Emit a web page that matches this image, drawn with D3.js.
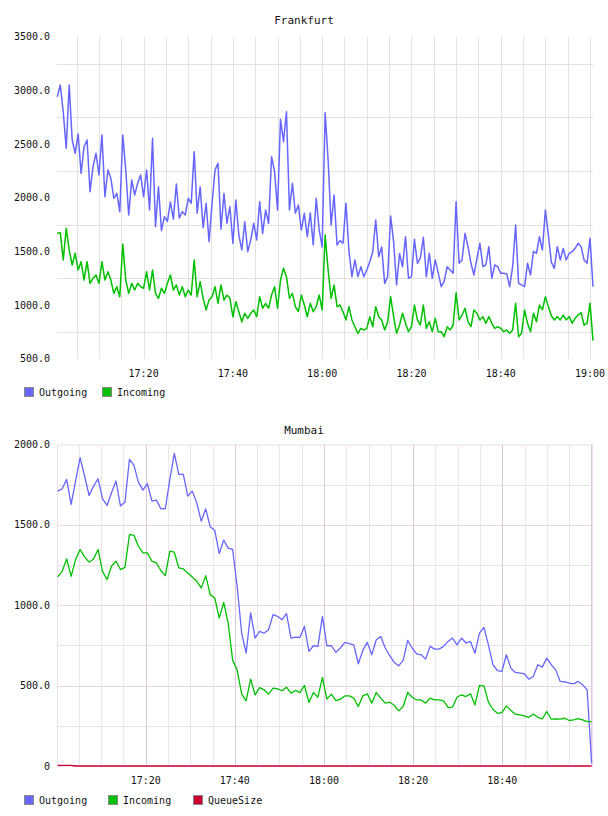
<!DOCTYPE html>
<html><head><meta charset="utf-8">
<script src="https://cdn.jsdelivr.net/npm/d3@7"></script>
<style>body{margin:0;background:#fff}svg{display:block}</style>
</head><body>
<svg id="c" width="608" height="816"></svg>
<script>
// ---------- DATA ----------
const frankfurtStart = "17:00:40";
const frankfurtStepSec = 40;
const frankfurtDomain = ["17:00:36", "19:00:40"];
const frankfurtOutgoing = [
2940,3050,2800,2460,3050,2540,2414,2594,2227,2475,
2538,2056,2289,2414,2212,2585,2009,2258,2181,1994,
2041,1870,2585,2258,1839,2165,2025,2134,2212,2009,
2258,1886,2553,1730,2102,1693,1823,1780,1960,1800,
2128,1808,1870,1839,1994,1948,2429,1855,2102,1720,
1948,1590,1948,2258,2320,1706,2040,1762,1916,1575,
1979,1652,1513,1776,1497,1606,1762,1606,1963,1668,
1886,1762,2382,2242,1886,2730,2522,2801,1886,2134,
1855,1932,1699,1855,1637,1860,1559,1994,1700,1540,
2792,2351,1746,2025,1559,1600,1575,1948,1500,1264,
1420,1264,1357,1264,1326,1404,1497,1792,1450,1540,
1202,1264,1829,1590,1187,1480,1357,1637,1249,1264,
1612,1389,1440,1631,1264,1482,1249,1420,1300,1171,
1220,1357,1326,1296,1963,1389,1420,1668,1544,1389,
1280,1435,1575,1357,1373,1544,1249,1373,1357,1296,
1296,1290,1171,1357,1746,1202,1187,1171,1389,1280,
1500,1482,1637,1513,1886,1653,1400,1342,1544,1420,
1528,1420,1482,1497,1528,1575,1544,1420,1389,1622,
1171];
const frankfurtIncoming = [
1668,1674,1420,1715,1513,1373,1482,1326,1404,1233,
1404,1202,1249,1280,1202,1404,1233,1311,1233,1109,
1171,1078,1569,1233,1109,1202,1140,1202,1171,1156,
1311,1140,1326,1109,1063,1156,1109,1202,1280,1140,
1187,1093,1171,1078,1140,1093,1420,1078,1218,1063,
954,1047,1078,1171,1016,1187,1047,1093,1063,891,
1031,938,845,923,876,923,954,891,1078,970,
1016,970,1093,1171,970,1233,1342,1264,1063,1109,
985,938,1093,1000,891,1016,938,985,1093,954,
1652,1326,1063,1187,985,1000,938,861,985,861,
798,736,783,767,783,891,798,985,891,861,
767,845,1078,891,736,814,923,830,752,798,
1000,861,814,1000,783,845,752,876,752,752,
705,798,767,814,1115,861,907,970,845,798,
954,923,861,892,830,892,830,783,798,783,
752,767,736,767,1016,705,736,954,830,752,
923,845,1000,954,1078,985,900,861,892,861,
907,861,892,830,876,907,929,814,830,1016,
668];
const frankfurtYTicks = [500,1000,1500,2000,2500,3000,3500];
const frankfurtYGrid = [750,1250,1750,2250,2750,3250];
const frankfurtXLabels = ["17:20","17:40","18:00","18:20","18:40","19:00"];

const mumbaiStart = "17:00:15";
const mumbaiStepSec = 60.4;
const mumbaiDomain = ["17:00:06", "19:00:21"];
const mumbaiOutgoing = [
1710,1725,1783,1627,1773,1918,1804,1683,1741,1787,
1662,1621,1700,1773,1617,1642,1908,1870,1766,1716,
1756,1648,1654,1600,1602,1783,1945,1814,1814,1679,
1710,1637,1523,1600,1488,1467,1322,1405,1355,1347,
1118,827,702,952,796,837,827,848,941,931,
910,948,796,802,800,869,713,748,744,931,
748,748,707,734,769,761,754,636,719,769,
692,785,806,734,686,644,623,657,781,734,
698,692,665,744,727,727,744,775,796,754,
796,765,775,702,827,862,754,630,594,588,
692,609,582,578,574,540,557,630,615,671,
630,598,526,524,515,511,526,505,474,17];
const mumbaiIncoming = [
1176,1211,1288,1180,1284,1347,1301,1268,1288,1347,
1211,1160,1243,1274,1222,1236,1440,1436,1367,1326,
1326,1274,1263,1216,1184,1336,1330,1232,1226,1201,
1176,1149,1108,1184,1066,1045,921,1018,889,657,
598,449,405,540,443,488,474,447,484,480,
468,490,453,470,457,501,395,457,428,551,
416,447,407,416,436,436,422,370,436,449,
391,457,422,391,397,378,343,370,457,428,
411,411,391,422,411,411,405,364,366,428,
443,432,449,380,501,499,397,353,328,332,
374,345,322,318,312,303,324,303,293,339,
291,293,291,297,283,287,295,287,276,276];
const mumbaiQueueSize = [
4,4,4,4,0,0,0,0,0,0,0,0,0,0,0,0,0,0,0,0,
0,0,0,0,0,0,0,0,0,0,0,0,0,0,0,0,0,0,0,0,
0,0,0,0,0,0,0,0,0,0,0,0,0,0,0,0,0,0,0,0,
0,0,0,0,0,0,0,0,0,0,0,0,0,0,0,0,0,0,0,0,
0,0,0,0,0,0,0,0,0,0,0,0,0,0,0,0,0,0,0,0,
0,0,0,0,0,0,0,0,0,0,0,0,0,0,0,0,0,0,0,0];
const mumbaiYTicks = [0,500,1000,1500,2000];
const mumbaiYGrid = [250,500,750,1000,1250,1500,1750];
const mumbaiXLabels = ["17:20","17:40","18:00","18:20","18:40"];

const seriesNames = ["Outgoing","Incoming","QueueSize"];
const seriesColors = {Outgoing:"#6666ff", Incoming:"#00c000", QueueSize:"#cc0033"};

// ---------- DRAW ----------
const svg = d3.select("#c");
const FONT = "'DejaVu Sans Mono', monospace";
const parse = s => { const [h,m,sec] = s.split(":").map(Number); return new Date(2000,0,1,h,m,sec); };
const times = (start, step, n) => d3.range(n).map(i => new Date(parse(start).getTime() + i*step*1000));

function drawChart(cfg) {
  const g = svg.append("g");
  const x = d3.scaleTime().domain(cfg.domain.map(parse)).range([cfg.left, cfg.right]);
  const y = d3.scaleLinear().domain(cfg.yDomain).range([cfg.bottom, cfg.top]);

  // title
  g.append("text").attr("x", 304).attr("y", cfg.titleY).attr("text-anchor","middle")
    .attr("font-family", FONT).attr("font-size", 11).attr("fill","#111").text(cfg.title);

  // vertical grid (every 5 min)
  const vt = d3.timeMinute.every(5).range(x.domain()[0], x.domain()[1]);
  g.append("g").selectAll("line").data(vt).join("line")
    .attr("x1", d => Math.round(x(d)) + 0.5).attr("x2", d => Math.round(x(d)) + 0.5)
    .attr("y1", cfg.top).attr("y2", cfg.bottom)
    .attr("stroke", d => (d.getMinutes() % 20 === 0) ? cfg.majorV : cfg.minorV)
    .attr("stroke-width", 1);

  // horizontal grid
  g.append("g").selectAll("line").data(cfg.yGrid).join("line")
    .attr("x1", cfg.left).attr("x2", cfg.right)
    .attr("y1", d => Math.round(y(d)) + 0.5).attr("y2", d => Math.round(y(d)) + 0.5)
    .attr("stroke", d => (cfg.majorH && d % 500 === 0) ? cfg.majorH : cfg.gridH)
    .attr("stroke-width", 1);

  if (cfg.border) {
    g.append("rect").attr("x", cfg.left + 0.5).attr("y", cfg.top + 0.5)
      .attr("width", cfg.right - cfg.left - 1).attr("height", cfg.bottom - cfg.top)
      .attr("fill","none").attr("stroke", cfg.border);
  }

  // y labels
  g.append("g").selectAll("text").data(cfg.yTicks).join("text")
    .attr("x", cfg.left - 7).attr("y", d => y(d)).attr("dy","0.35em")
    .attr("text-anchor","end").attr("font-family", FONT).attr("font-size", 10).attr("fill","#111")
    .text(d => d === 0 ? "0" : d.toFixed(1));

  // x labels
  const fmt = d3.timeFormat("%H:%M");
  const labTimes = vt.filter(d => cfg.xLabels.includes(fmt(d)));
  g.append("g").selectAll("text").data(labTimes).join("text")
    .attr("x", d => x(d)).attr("y", cfg.bottom + 18).attr("text-anchor","middle")
    .attr("font-family", FONT).attr("font-size", 10).attr("fill","#111").text(d => fmt(d));

  // lines
  const t = times(cfg.start, cfg.step, cfg.series[0].values.length);
  cfg.series.forEach(s => {
    const line = d3.line().x((d,i) => x(t[i])).y(d => y(d));
    g.append("path").datum(s.values).attr("d", line).attr("fill","none")
      .attr("stroke", seriesColors[s.name]).attr("stroke-width", cfg.lineWidth)
      .attr("stroke-linejoin","round");
  });

  // legend
  cfg.series.forEach((s, i) => {
    const lx = cfg.legendX[i];
    g.append("rect").attr("x", lx + 0.5).attr("y", cfg.legendY - 4.5).attr("width", 9).attr("height", 9)
      .attr("fill", seriesColors[s.name]).attr("stroke", "#888").attr("stroke-width", 1);
    g.append("text").attr("x", lx + 15).attr("y", cfg.legendY + 3.5)
      .attr("font-family", FONT).attr("font-size", 10).attr("fill","#111").text(s.name);
  });
}

drawChart({
  title: "Frankfurt", titleY: 24,
  domain: frankfurtDomain, start: frankfurtStart, step: frankfurtStepSec,
  left: 57, right: 593, top: 36.7, bottom: 358.7,
  yDomain: [500, 3500], yTicks: frankfurtYTicks, yGrid: frankfurtYGrid,
  xLabels: frankfurtXLabels,
  majorV: "#e2e2e2", minorV: "#e2e2e2", gridH: "#e0e0e0", majorH: null, border: null,
  lineWidth: 1.5,
  series: [{name:"Outgoing", values: frankfurtOutgoing}, {name:"Incoming", values: frankfurtIncoming}],
  legendX: [24, 102], legendY: 392
});

drawChart({
  title: "Mumbai", titleY: 434,
  domain: mumbaiDomain, start: mumbaiStart, step: mumbaiStepSec,
  left: 57, right: 593, top: 444.5, bottom: 766,
  yDomain: [0, 2000], yTicks: mumbaiYTicks, yGrid: mumbaiYGrid,
  xLabels: mumbaiXLabels,
  majorV: "#dcc6dc", minorV: "#ede7ed", gridH: "#e8e2e8", majorH: "#e6d6e6", border: "#efdcef",
  lineWidth: 1.3,
  series: [{name:"Outgoing", values: mumbaiOutgoing}, {name:"Incoming", values: mumbaiIncoming}, {name:"QueueSize", values: mumbaiQueueSize}],
  legendX: [24, 108, 193], legendY: 800
});
</script>
</body></html>
